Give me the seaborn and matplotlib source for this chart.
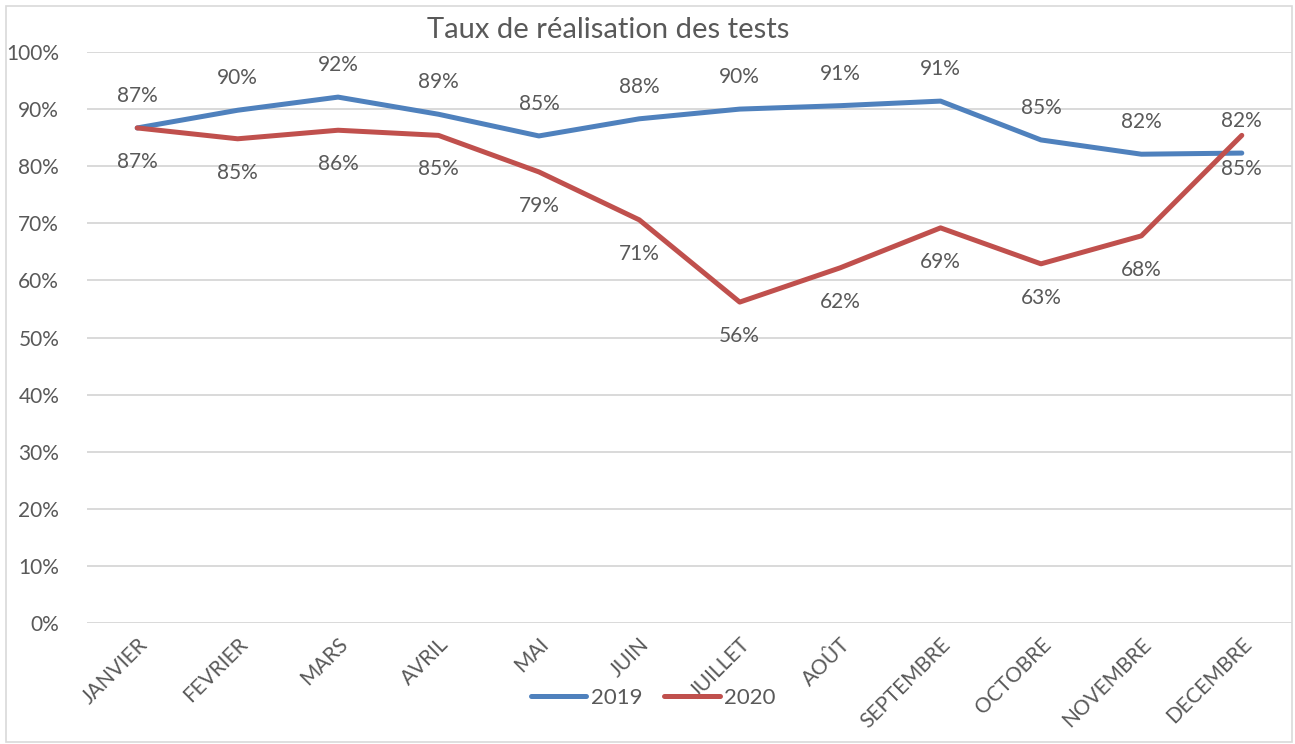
import matplotlib
matplotlib.use("Agg")
import matplotlib.pyplot as plt
import matplotlib.patches as mpatches
from matplotlib.ticker import PercentFormatter
import pandas as pd
import seaborn as sns

# data
months = ["JANVIER", "FEVRIER", "MARS", "AVRIL", "MAI", "JUIN",
          "JUILLET", "AOÛT", "SEPTEMBRE", "OCTOBRE", "NOVEMBRE", "DECEMBRE"]
taux_2019 = [0.867, 0.898, 0.921, 0.891, 0.853, 0.883,
             0.900, 0.906, 0.914, 0.846, 0.821, 0.823]
taux_2020 = [0.867, 0.848, 0.863, 0.854, 0.790, 0.706,
             0.562, 0.622, 0.692, 0.629, 0.678, 0.854]
years = ["2019", "2020"]
colors = {"2019": "#4F81BD", "2020": "#C0504D"}

df = pd.DataFrame({
    "mois": months * 2,
    "taux": taux_2019 + taux_2020,
    "annee": [years[0]] * len(months) + [years[1]] * len(months),
})

sns.set_style("white")
plt.rcParams["font.family"] = ["Lato", "DejaVu Sans"]
text_color = "#595959"

fig = plt.figure(figsize=(12.95, 7.44), dpi=100)
ax = fig.add_axes([87 / 1295, 121 / 744, 1205 / 1295, 571 / 744])

sns.lineplot(data=df, x="mois", y="taux", hue="annee", palette=colors,
             linewidth=3.6, sort=False, ax=ax)

# data labels: 2019 above the line, 2020 below
for i, v in enumerate(taux_2019):
    ax.annotate(f"{v:.0%}", (i, v), xytext=(0, 32), textcoords="offset pixels",
                ha="center", va="center", fontsize=15, color=text_color)
for i, v in enumerate(taux_2020):
    ax.annotate(f"{v:.0%}", (i, v), xytext=(0, -34), textcoords="offset pixels",
                ha="center", va="center", fontsize=15, color=text_color)

ax.set_ylim(0, 1.0)
ax.set_xlim(-0.5, len(months) - 0.5)
ax.set_yticks([i / 10 for i in range(11)])
ax.yaxis.set_major_formatter(PercentFormatter(1.0, decimals=0))
ax.grid(axis="y", color="#D9D9D9", linewidth=1.4)
ax.set_axisbelow(True)
for s in ax.spines.values():
    s.set_visible(False)
ax.tick_params(axis="y", length=0, pad=20, labelsize=15, labelcolor=text_color)
ax.tick_params(axis="x", length=0, pad=8, labelsize=15, labelcolor=text_color)
plt.setp(ax.get_xticklabels(), rotation=45, ha="right", va="top",
         rotation_mode="anchor")
ax.set_xlabel("")
ax.set_ylabel("")

fig.text(0.47, 0.96, "Taux de réalisation des tests", ha="center", va="center",
         fontsize=21, color=text_color)

leg = ax.legend(loc="center", bbox_to_anchor=(0.47, -0.131), ncol=2,
                frameon=False, fontsize=16, handlelength=2.5,
                handletextpad=0.2, columnspacing=1.0,
                labelcolor=text_color)
for line in leg.get_lines():
    line.set_linewidth(3.6)

fig.patches.append(mpatches.Rectangle((6 / 1295, 2 / 744), 1286 / 1295, 736 / 744,
                                      transform=fig.transFigure, fill=False,
                                      edgecolor="#D9D9D9", linewidth=1.2))

fig.savefig("out.png", dpi=100)
